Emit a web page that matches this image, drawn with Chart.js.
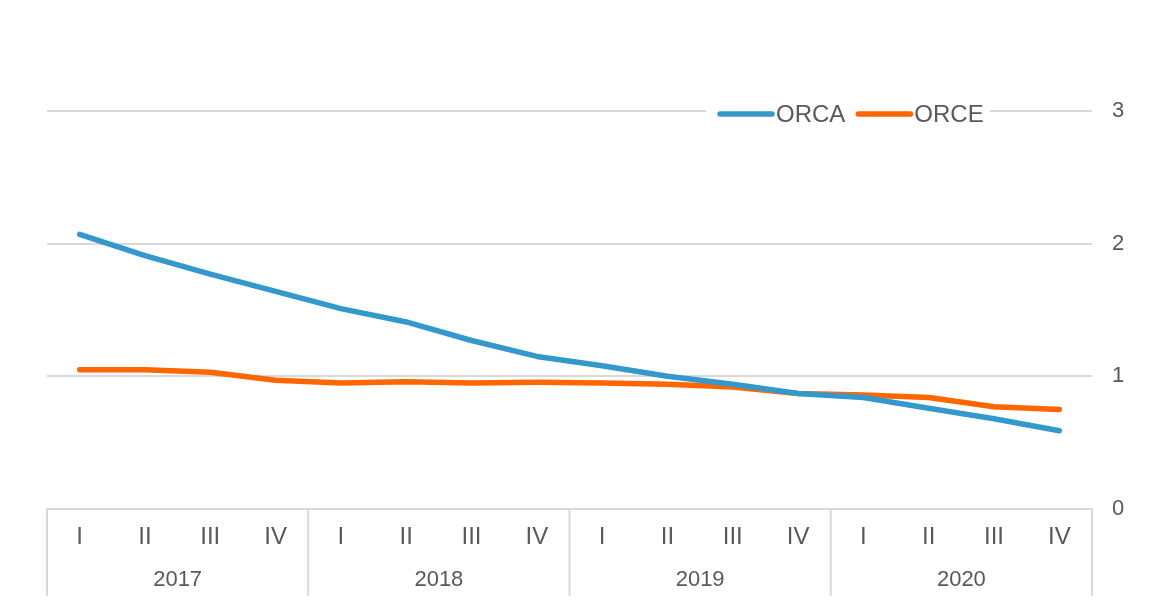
<!DOCTYPE html>
<html>
<head>
<meta charset="utf-8">
<script src="https://cdn.jsdelivr.net/npm/chart.js@4"></script>
<style>
  html, body { margin: 0; padding: 0; background: #fff; }
  #wrap { width: 1164px; height: 612px; }
</style>
</head>
<body>
<div id="wrap"><canvas id="chart" width="1164" height="612"></canvas></div>
<script>
var quarters = ['I', 'II', 'III', 'IV', 'I', 'II', 'III', 'IV', 'I', 'II', 'III', 'IV', 'I', 'II', 'III', 'IV'];
var years = ['2017', '2018', '2019', '2020'];
var orca = [2.07, 1.91, 1.77, 1.64, 1.51, 1.41, 1.27, 1.15, 1.08, 1.00, 0.94, 0.87, 0.84, 0.76, 0.68, 0.59];
var orce = [1.05, 1.05, 1.03, 0.97, 0.95, 0.96, 0.95, 0.955, 0.95, 0.94, 0.92, 0.87, 0.86, 0.84, 0.77, 0.75];
var yTicks = [0, 1, 2, 3];

var textColor = '#595959';
var gridColor = '#d9d9d9';
var fontFamily = '"Liberation Sans", Arial, sans-serif';

// year separators under the axis (lines between groups of 4 quarters)
var groupLines = {
  id: 'groupLines',
  afterDraw: function (chart) {
    var x = chart.scales.x;
    var ctx = chart.ctx;
    var n = quarters.length;
    ctx.save();
    ctx.strokeStyle = gridColor;
    ctx.lineWidth = 2;
    for (var i = 0; i <= n; i += 4) {
      var px;
      if (i === 0) px = x.left;
      else if (i === n) px = x.right;
      else px = (x.getPixelForValue(i - 1) + x.getPixelForValue(i)) / 2;
      ctx.beginPath();
      ctx.moveTo(px, chart.chartArea.bottom);
      ctx.lineTo(px, 596);
      ctx.stroke();
    }
    ctx.restore();
  }
};

// legend drawn over the top gridline
var insideLegend = {
  id: 'insideLegend',
  afterDraw: function (chart) {
    var ctx = chart.ctx;
    var y = chart.scales.y.getPixelForValue(3) + 3;
    ctx.save();
    ctx.font = '24px ' + fontFamily;
    ctx.fillStyle = '#fff';
    ctx.fillRect(706, y - 6, 284, 12);
    var x = 720;
    chart.data.datasets.forEach(function (ds) {
      ctx.strokeStyle = ds.borderColor;
      ctx.lineWidth = 5.5;
      ctx.lineCap = 'round';
      ctx.beginPath();
      ctx.moveTo(x, y);
      ctx.lineTo(x + 52, y);
      ctx.stroke();
      ctx.fillStyle = textColor;
      ctx.textBaseline = 'middle';
      ctx.fillText(ds.label, x + 56, y + 1);
      x += 56 + ctx.measureText(ds.label).width + 13;
    });
    ctx.restore();
  }
};

new Chart(document.getElementById('chart'), {
  type: 'line',
  data: {
    labels: quarters,
    datasets: [
      {
        label: 'ORCA',
        data: orca,
        borderColor: '#3399cc',
        backgroundColor: '#3399cc',
        borderWidth: 5.5,
        borderCapStyle: 'round',
        borderJoinStyle: 'round',
        pointRadius: 0,
        tension: 0
      },
      {
        label: 'ORCE',
        data: orce,
        borderColor: '#ff6600',
        backgroundColor: '#ff6600',
        borderWidth: 5.5,
        borderCapStyle: 'round',
        borderJoinStyle: 'round',
        pointRadius: 0,
        tension: 0
      }
    ]
  },
  options: {
    responsive: false,
    animation: false,
    layout: { padding: { left: 47, top: 111, right: 0, bottom: 0 } },
    plugins: {
      legend: { display: false },
      tooltip: { enabled: false }
    },
    scales: {
      x: {
        offset: true,
        grid: { display: false, drawTicks: false },
        border: { color: gridColor, width: 2 },
        ticks: {
          color: textColor,
          font: { family: fontFamily, size: 24 },
          padding: 14,
          maxRotation: 0,
          autoSkip: false
        },
        afterFit: function (scale) { scale.height = 50; }
      },
      x2: {
        type: 'category',
        labels: years,
        position: 'bottom',
        offset: true,
        grid: { display: false, drawTicks: false },
        border: { display: false },
        ticks: {
          color: textColor,
          font: { family: fontFamily, size: 22 },
          padding: 8,
          maxRotation: 0
        },
        afterFit: function (scale) { scale.height = 53; }
      },
      y: {
        position: 'right',
        min: 0,
        max: 3,
        afterBuildTicks: function (scale) {
          scale.ticks = yTicks.map(function (v) { return { value: v }; });
        },
        grid: { color: gridColor, lineWidth: 2, drawTicks: false },
        border: { display: false },
        ticks: {
          color: textColor,
          font: { family: fontFamily, size: 22 },
          padding: 20
        },
        afterFit: function (scale) { scale.width = 72; }
      }
    }
  },
  plugins: [groupLines, insideLegend]
});
</script>
</body>
</html>
